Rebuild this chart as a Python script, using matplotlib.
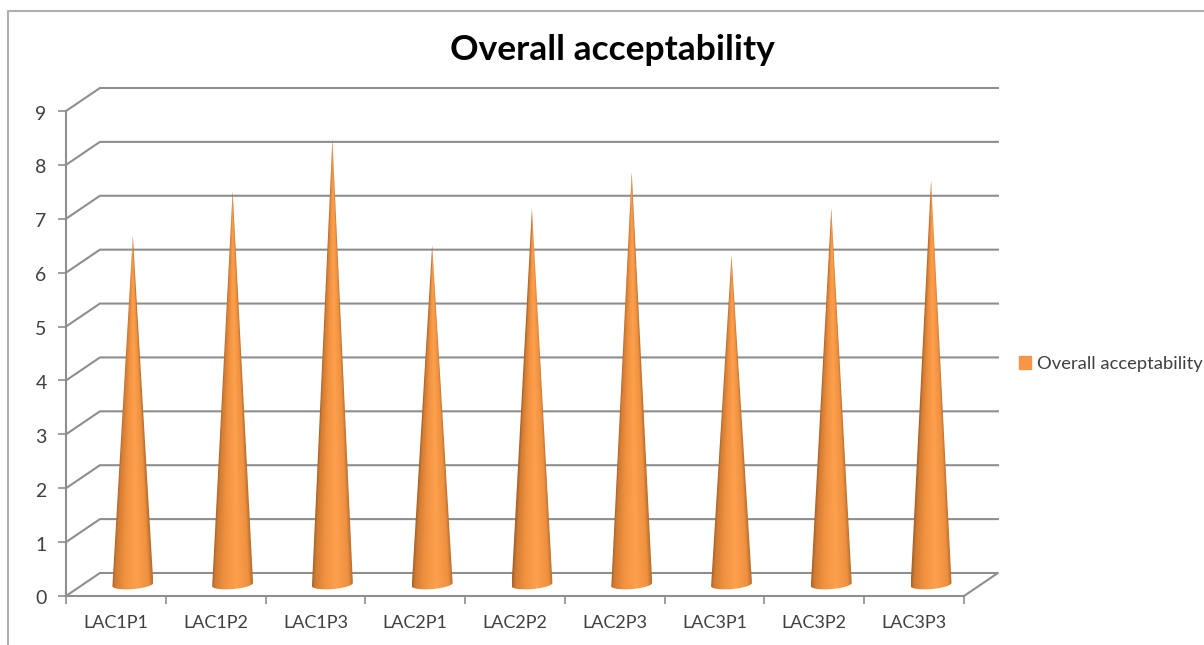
#!/usr/bin/env python3
"""Overall acceptability cone chart, drawn as a fake 3D column chart."""

import matplotlib
matplotlib.use("Agg")
import matplotlib.pyplot as plt
import matplotlib.transforms as mtransforms
import numpy as np
from matplotlib.colors import LinearSegmentedColormap
from matplotlib.lines import Line2D
from matplotlib.patches import Patch, Polygon

categories = ["LAC1P1", "LAC1P2", "LAC1P3", "LAC2P1", "LAC2P2",
              "LAC2P3", "LAC3P1", "LAC3P2", "LAC3P3"]
values = [6.47, 7.30, 8.26, 6.30, 6.98, 7.65, 6.10, 6.98, 7.50]
y_ticks = [0, 1, 2, 3, 4, 5, 6, 7, 8, 9]

W, H = 1204, 645
GREY = "#8e8e8e"
TEXT = "#404040"
ORANGE = "#f79646"
# depth of the fake 3D floor, in data units
DX, DY = 0.34, 0.427
HALF_W, HALF_H = 0.205, 0.085

plt.rcParams["font.family"] = ["Lato", "DejaVu Sans"]

fig = plt.figure(figsize=(W / 100, H / 100), dpi=100)
ax = fig.add_axes([66 / W, (H - 596) / H, 898 / W, 485 / H])
ax.set_xlim(0, 9)
ax.set_ylim(0, 9)

# outer chart frame
fig.add_artist(Line2D([8 / W, 8 / W, 1204 / W], [0, (H - 11) / H, (H - 11) / H],
                      color="#b0b0b0", lw=1.5))

# walls and floor
for v in y_ticks:
    if v == 0:
        xs, ys = [9, 9 + DX, DX, 0], [0, DY, DY, 0]
    else:
        xs, ys = [0, DX, 9 + DX], [v, v + DY, v + DY]
    ax.plot(xs, ys, color=GREY, lw=1.5, clip_on=False, zorder=1)

cone_map = LinearSegmentedColormap.from_list(
    "cone",
    [(0.0, "#a8622a"), (0.07, "#d27c33"), (0.3, "#f0913f"),
     (0.6, "#fda14d"), (0.9, "#ee9040"), (1.0, "#b8702f")],
)

# cones: shade runs across the local width so the tip narrows with the body
for i, value in enumerate(values):
    xc = i + 0.5 + DX / 2
    yb = DY / 2
    top = value + yb
    t = np.linspace(np.pi, 2 * np.pi, 30)
    base_x = xc + HALF_W * np.cos(t)
    base_y = yb + HALF_H * np.sin(t) + 0.03 * np.cos(t)
    outline = np.vstack([np.column_stack([base_x, base_y]), [[xc, top]]])

    gx, gy = np.meshgrid(np.linspace(xc - HALF_W, xc + HALF_W, 80),
                         np.linspace(yb - HALF_H - 0.05, top, 400))
    width = HALF_W * np.clip((top - gy) / (top - yb), 0.001, 1)
    u = np.clip((gx - xc) / width * 0.5 + 0.5, 0, 1)
    im = ax.imshow(u, cmap=cone_map, vmin=0, vmax=1, aspect="auto", origin="lower",
                   extent=[xc - HALF_W, xc + HALF_W, yb - HALF_H - 0.05, top],
                   interpolation="bilinear", zorder=3)
    im.set_clip_path(Polygon(outline, closed=True, transform=ax.transData))

ax.set_xlim(0, 9)
ax.set_ylim(0, 9)

# axes
for side in ("top", "right"):
    ax.spines[side].set_visible(False)
for side in ("left", "bottom"):
    ax.spines[side].set_color(GREY)
    ax.spines[side].set_linewidth(1.5)
    ax.spines[side].set_zorder(2)
ax.patch.set_alpha(0)

ax.set_yticks(y_ticks)
ax.set_xticks(range(10))
ax.set_xticklabels([])
ax.set_xticks(np.arange(len(categories)) + 0.5, labels=categories, minor=True)
ax.tick_params(axis="both", which="major", color=GREY, width=1.2, length=6)
ax.tick_params(axis="x", which="minor", length=0, pad=14, labelsize=13, labelcolor=TEXT)
ax.tick_params(axis="y", labelsize=14, labelcolor=TEXT, pad=8)

# nudge y labels down a touch to sit where the reference has them
nudge = mtransforms.ScaledTranslation(0, -1.5 / 100, fig.dpi_scale_trans)
for label in ax.get_yticklabels():
    label.set_transform(label.get_transform() + nudge)

fig.text(612 / W, (H - 50) / H, "Overall acceptability", ha="center", va="center",
         fontsize=25.5, fontweight="bold", color="black")

fig.legend(handles=[Patch(color=ORANGE, label="Overall acceptability")],
           loc="center left", bbox_to_anchor=(1019 / W, (H - 364) / H), frameon=False,
           fontsize=13.2, labelcolor=TEXT, handlelength=0.65, handleheight=0.65,
           handletextpad=0.32, borderpad=0, borderaxespad=0)

fig.savefig("out.png", dpi=100)
